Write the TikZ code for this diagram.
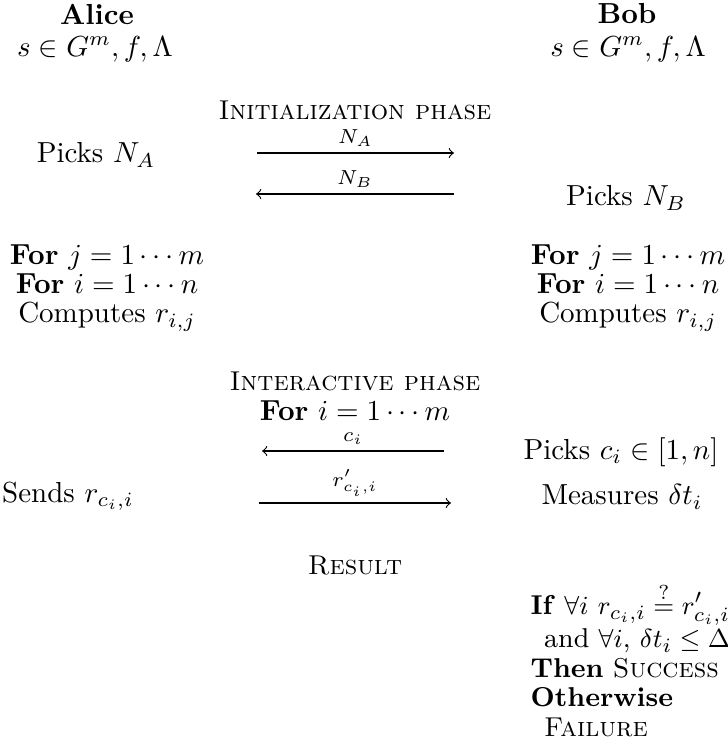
\documentclass[tikz,border=0pt]{standalone}
\usepackage{amsmath,amssymb}
\begin{document}
\begin{tikzpicture}[x=0.3448pt,y=-0.3448pt,
  txt/.style={inner sep=0pt, font=\fontsize{10}{10}\selectfont, align=center},
  sctxt/.style={inner sep=0pt, font=\fontsize{9.4}{10}\selectfont, align=center},
  restxt/.style={inner sep=0pt, font=\fontsize{9.4}{10.2}\selectfont, align=left},
  lbl/.style={inner sep=0pt, font=\fontsize{7.5}{7.5}\selectfont},
  msg/.style={->, line width=0.4pt}]
\useasboundingbox (0,0) rectangle (727,742);
% parties
\node[txt] (alice) at (97,14) {\textbf{Alice}};
\node[txt] (alicek) at (95,49) {$s\in G^m, f,\Lambda$};
\node[txt] (bob) at (627,14) {\textbf{Bob}};
\node[txt] (bobk) at (628,49) {$s\in G^m, f,\Lambda$};
% initialization
\node[sctxt] (init) at (355,110) {\textsc{Initialization phase}};
\node[txt] (pna) at (96,155) {Picks $N_A$};
\node[txt] (pnb) at (626,198) {Picks $N_B$};
\coordinate (a1) at (257,153);
\coordinate (a2) at (454,153);
\coordinate (b1) at (454,194);
\coordinate (b2) at (256,194);
\draw[msg] (a1) -- node[lbl, above=2pt] (lna) {$N_A$} (a2);
\draw[msg] (b1) -- node[lbl, above=2pt] (lnb) {$N_B$} (b2);
% computation
\node[txt] (acomp) at (107,288) {\textbf{For} $j=1\cdots m$\\ \textbf{For} $i=1\cdots n$\\ Computes $r_{i,j}$};
\node[txt] (bcomp) at (628,288) {\textbf{For} $j=1\cdots m$\\ \textbf{For} $i=1\cdots n$\\ Computes $r_{i,j}$};
% interactive
\node[sctxt] (inter) at (355,381) {\textsc{Interactive phase}};
\node[txt] (forim) at (355,411) {\textbf{For} $i=1\cdots m$};
\node[txt] (pci) at (621,452) {Picks $c_i\in[1,n]$};
\node[txt] (send) at (68,496) {Sends $r_{c_i,i}$};
\node[txt] (meas) at (622,497) {Measures $\delta t_i$};
\coordinate (c1) at (444,451);
\coordinate (c2) at (262,451);
\coordinate (r1) at (259,503);
\coordinate (r2) at (451,503);
\draw[msg] (c1) -- node[lbl, above=2pt] (lci) {$c_i$} (c2);
\draw[msg] (r1) -- node[lbl, above=2pt] (lr) {$r'_{c_i,i}$} (r2);
% result
\node[sctxt] (result) at (355,565) {\textsc{Result}};
\node[restxt, anchor=north west] (res) at (530,582) {\textbf{If} $\forall i$ $r_{c_i,i} \stackrel{?}{=} r'_{c_i,i}$\\
\hspace{0.5em}and $\forall i$, $\delta t_i\le\Delta$\\
\textbf{Then} \textsc{Success}\\
\textbf{Otherwise}\\
\hspace{0.5em}\textsc{Failure}};
\end{tikzpicture}
\end{document}
